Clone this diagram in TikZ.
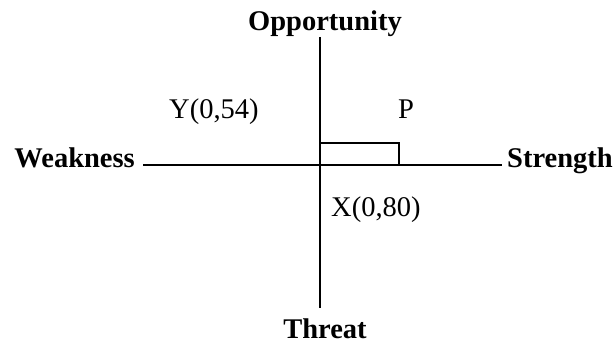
\documentclass[tikz,border=0pt]{standalone}
\usepackage{fontspec}
\setmainfont{Liberation Serif}
\usetikzlibrary{positioning}

\begin{document}
\begin{tikzpicture}[x=1pt,y=-1pt,font=\fontsize{28.5}{34}\selectfont,
  axline/.style={line width=1.5pt},
  axlabel/.style={font=\fontsize{28.5}{34}\selectfont\bfseries,inner sep=0pt},
  ptlabel/.style={inner sep=0pt,anchor=base west}]
  \useasboundingbox (0,0) rectangle (613,345);
  % Axes
  \coordinate (axN) at (320,37);
  \coordinate (axS) at (320,308);
  \coordinate (axW) at (143,165);
  \coordinate (axE) at (502,165);
  \coordinate (orig) at (320,165);
  \coordinate (pcorner) at (399,143);
  \draw[axline] (axN) -- (axS);
  \draw[axline] (axW) -- (axE);
  \draw[axline] (orig) rectangle (pcorner);
  % Axis labels
  \node[axlabel,anchor=base] (opp) at (325,31) {Opportunity};
  \node[axlabel,anchor=base] (thr) at (325,338) {Threat};
  \node[axlabel,anchor=base east] (weak) at (135,167) {Weakness};
  \node[axlabel,anchor=base west] (str) at (507,167) {Strength};
  % Point labels
  \node[ptlabel] (ylbl) at (169,118) {Y(0,54)};
  \node[ptlabel] (plbl) at (398,118) {P};
  \node[ptlabel] (xlbl) at (331,216) {X(0,80)};
\end{tikzpicture}
\end{document}
